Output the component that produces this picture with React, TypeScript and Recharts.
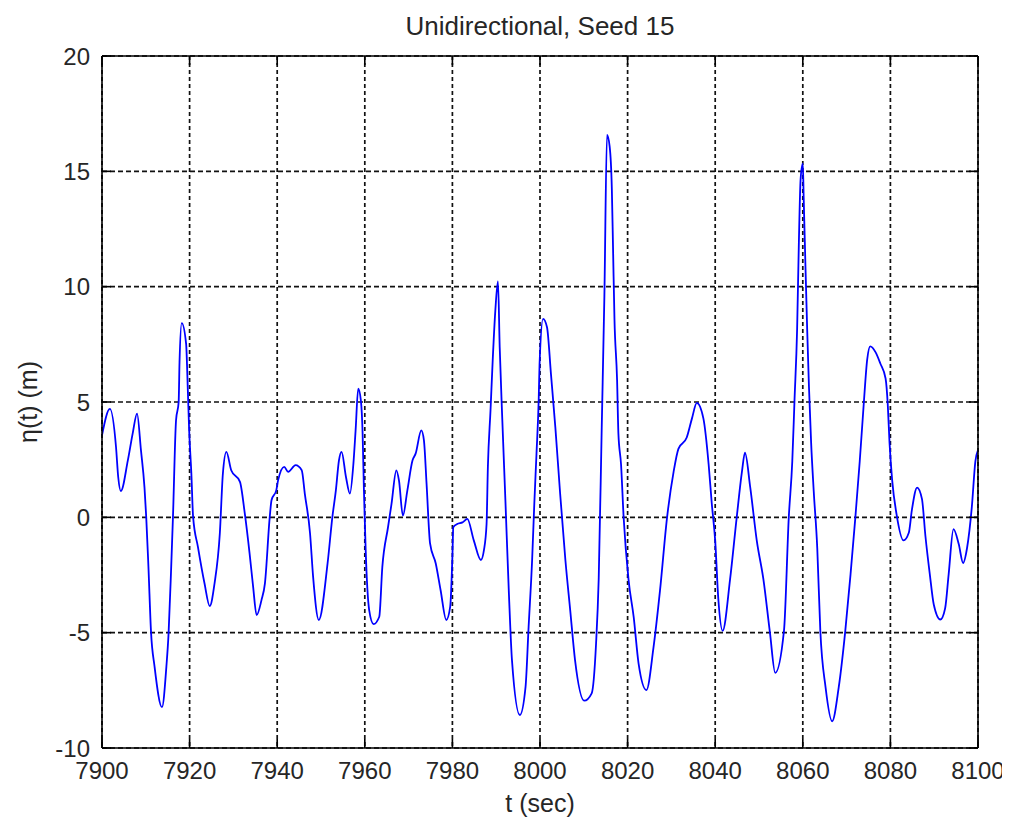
import React from 'react';
import { LineChart, Line, XAxis, YAxis, CartesianGrid } from 'recharts';

// time samples (sec)
const tSec = [
  7900, 7901.8, 7903.2, 7903.7, 7904.3, 7905.9, 7907, 7908, 7908.9, 7909.7,
  7910.1, 7910.6, 7911.2, 7912, 7913.7, 7914.7, 7915.2, 7915.8, 7916.2, 7916.9,
  7917.5, 7917.7, 7918.2, 7919.2, 7919.6, 7919.9, 7920.4, 7920.8, 7921.9, 7923.4,
  7924.6, 7925.7, 7926.9, 7927.6, 7928.4, 7929.5, 7931.5, 7932.6, 7933.7, 7934.5,
  7935.3, 7936.4, 7937.2, 7938.3, 7938.7, 7939.8, 7940.2, 7941.6, 7942.5, 7944.2,
  7945.6, 7946.3, 7947.5, 7948.2, 7949.5, 7951.5, 7952.6, 7953.4, 7954.1, 7954.7,
  7955.7, 7956.6, 7957.4, 7957.9, 7958.5, 7959.1, 7959.5, 7959.8, 7960.2, 7961,
  7962, 7963.3, 7964, 7965.3, 7966.1, 7967.2, 7967.8, 7968.7, 7969.7, 7970.9,
  7971.6, 7972.9, 7973.5, 7974.1, 7974.9, 7976.2, 7977.3, 7978.6, 7979.5, 7980,
  7980.2, 7981.1, 7982.3, 7983.4, 7984.9, 7986.5, 7987.2, 7987.8, 7988.1, 7988.7,
  7989.2, 7989.8, 7990.4, 7990.8, 7991.4, 7992.1, 7992.9, 7993.6, 7995.4, 7996.7,
  7997.4, 7998.2, 7998.7, 7999.2, 7999.7, 7999.9, 8000.7, 8001.6, 8002.5, 8003.5,
  8004.6, 8005.8, 8006.9, 8008, 8010.1, 8011.8, 8012.8, 8013.4, 8014.1, 8014.7,
  8015.3, 8015.9, 8016.4, 8016.7, 8017, 8017.6, 8017.9, 8018.5, 8019.1, 8020.2,
  8021.4, 8022.5, 8024.3, 8025.9, 8027.4, 8029, 8030.5, 8031.6, 8033.5, 8034.7,
  8035.8, 8037.3, 8038.5, 8039.2, 8040, 8040.7, 8041.7, 8043.4, 8044.9, 8046.1,
  8046.8, 8048, 8049.5, 8051, 8052.5, 8053.7, 8055.7, 8056.8, 8057.6, 8058.1,
  8058.7, 8059.1, 8059.5, 8060, 8060.2, 8060.6, 8061, 8061.4, 8061.9, 8062.5,
  8063.3, 8064, 8065.2, 8066.7, 8068.2, 8069.7, 8070.9, 8072, 8073, 8073.9,
  8074.7, 8075.4, 8076.6, 8077.7, 8078.9, 8079.4, 8079.8, 8080.4, 8081.4, 8083,
  8084.2, 8084.9, 8086.1, 8087.2, 8088, 8089, 8089.9, 8091.4, 8092.5, 8093.3,
  8094.4, 8095.6, 8096.6, 8097.5, 8098.6, 8099.4, 8100,
];

// surface elevation (m)
const eta = [
  3.55, 4.7, 3.05, 1.75, 1.14, 2.47, 3.63, 4.5, 2.9, 1.3,
  0, -2.14, -5, -6.47, -8.23, -6.47, -5.03, -2.14, 0, 4.2,
  5, 6.73, 8.42, 7.53, 5.5, 3.77, 1.9, 0.02, -1.28, -2.86,
  -3.85, -2.86, -0.7, 1.9, 2.84, 2.04, 1.54, 0.17, -1.57, -3.0,
  -4.24, -3.6, -2.86, 0.02, 0.74, 1.18, 1.6, 2.19, 1.97, 2.26,
  2.04, 1.03, -0.7, -2.58, -4.45, -2.0, 0.02, 1.18, 2.47, 2.84,
  1.75, 1.03, 2.33, 3.77, 5.58, 5.07, 3.63, 1.18, -1.42, -4.02,
  -4.63, -4.31, -2.16, -0.43, 0.58, 2.04, 1.6, 0.07, 1.15, 2.47,
  2.76, 3.77, 3.34, 1.46, -1.13, -2.0, -3.15, -4.45, -3.87, -1.71,
  -0.43, -0.29, -0.22, -0.07, -1.01, -1.85, -1.42, -0.29, 2.18, 4.63,
  6.8, 8.96, 10.23, 7.37, 4.2, 0.74, -3.3, -6.19, -8.57, -7.35,
  -4.75, -1.86, 0.59, 2.76, 5.07, 6.65, 8.6, 8.24, 6.22, 3.91,
  1.02, -1.86, -4.03, -6.19, -7.95, -7.63, -5.47, -2.68, 3.96, 9.6,
  16.58, 16.08, 14.25, 11.43, 8.61, 5.95, 3.63, 2.3, -0.02, -2.68,
  -4.34, -6.33, -7.49, -5.66, -3.17, -0.02, 1.97, 2.97, 3.46, 4.29,
  4.96, 4.29, 2.3, 0.64, -1.02, -3.51, -4.92, -2.68, -0.02, 1.97,
  2.8, 1.3, -1.02, -2.68, -5.0, -6.74, -4.92, 0.0, 2.43, 5.04,
  8.14, 11.9, 14.67, 15.33, 13.86, 10.92, 8.14, 5.69, 3.24, 1.12,
  -1.33, -4.92, -7.37, -8.84, -7.37, -4.92, -2.47, 0, 2.43, 4.88,
  6.84, 7.41, 7.16, 6.67, 6.02, 4.88, 3.24, 1.61, 0.14, -1.0,
  -0.67, 0.31, 1.29, 0.8, -0.82, -2.47, -3.78, -4.43, -3.94, -2.47,
  -0.51, -1.16, -1.98, -1.33, 0.47, 2.43, 2.92,
];

const xTicks = [7900, 7920, 7940, 7960, 7980, 8000, 8020, 8040, 8060, 8080, 8100];
const yTicks = [-10, -5, 0, 5, 10, 15, 20];

const data = tSec.map((t, i) => ({ t, eta: eta[i] }));

const FONT = '"Liberation Sans", Arial, Helvetica, sans-serif';
const TEXT = '#262626';

const noLabel = () => <g />;

export default function App() {
  return (
    <div style={{ position: 'relative', width: 1002, height: 813, fontFamily: FONT }}>
      <div
        style={{
          position: 'absolute',
          left: 94,
          top: 5,
          width: 876,
          textAlign: 'center',
          fontSize: 26,
          lineHeight: '26px',
          color: TEXT,
        }}
      >
        Unidirectional, Seed 15
      </div>
      <LineChart
        width={1002}
        height={813}
        data={data}
        margin={{ top: 48, right: 32, bottom: 33, left: 0 }}
      >
        <CartesianGrid horizontal={false} stroke="#111" strokeWidth={1.7} strokeDasharray="4 3" />
        <CartesianGrid vertical={false} stroke="#111" strokeWidth={1.7} strokeDasharray="5 3" />
        <XAxis
          dataKey="t"
          type="number"
          domain={[7900, 8100]}
          ticks={xTicks}
          interval={0}
          allowDataOverflow
          height={40}
          axisLine={false}
          tickLine={false}
          tickSize={6}
          tickMargin={8}
          tick={{ fontSize: 24, fill: TEXT, fontFamily: FONT }}
          label={{ value: 't (sec)', position: 'bottom', offset: 6, fontSize: 25, fill: TEXT, fontFamily: FONT }}
        />
        <YAxis
          type="number"
          domain={[-10, 20]}
          ticks={yTicks}
          interval={0}
          allowDataOverflow
          width={94}
          axisLine={false}
          tickLine={false}
          tickSize={6}
          tickMargin={6}
          tick={{ fontSize: 24, fill: TEXT, fontFamily: FONT }}
          label={{
            value: 'η(t) (m)',
            angle: -90,
            position: 'insideLeft',
            offset: 20,
            fontSize: 25,
            fill: TEXT,
            fontFamily: FONT,
            style: { textAnchor: 'middle' },
          }}
        />
        {/* frame with inward ticks, MATLAB style */}
        <XAxis xAxisId="bottomBox" orientation="bottom" mirror dataKey="t" type="number" domain={[7900, 8100]}
          ticks={xTicks} interval={0} allowDataOverflow tick={noLabel} tickSize={9}
          stroke="#000" strokeWidth={1.6} />
        <XAxis xAxisId="topBox" orientation="top" mirror dataKey="t" type="number" domain={[7900, 8100]}
          ticks={xTicks} interval={0} allowDataOverflow tick={noLabel} tickSize={9}
          stroke="#000" strokeWidth={1.6} />
        <YAxis yAxisId="leftBox" orientation="left" mirror type="number" domain={[-10, 20]}
          ticks={yTicks} interval={0} allowDataOverflow tick={noLabel} tickSize={9}
          stroke="#000" strokeWidth={1.6} />
        <YAxis yAxisId="rightBox" orientation="right" mirror type="number" domain={[-10, 20]}
          ticks={yTicks} interval={0} allowDataOverflow tick={noLabel} tickSize={9}
          stroke="#000" strokeWidth={1.6} />
        <Line
          type="monotone"
          dataKey="eta"
          stroke="#0000ff"
          strokeWidth={1.8}
          dot={false}
          activeDot={false}
          isAnimationActive={false}
        />
      </LineChart>
    </div>
  );
}
